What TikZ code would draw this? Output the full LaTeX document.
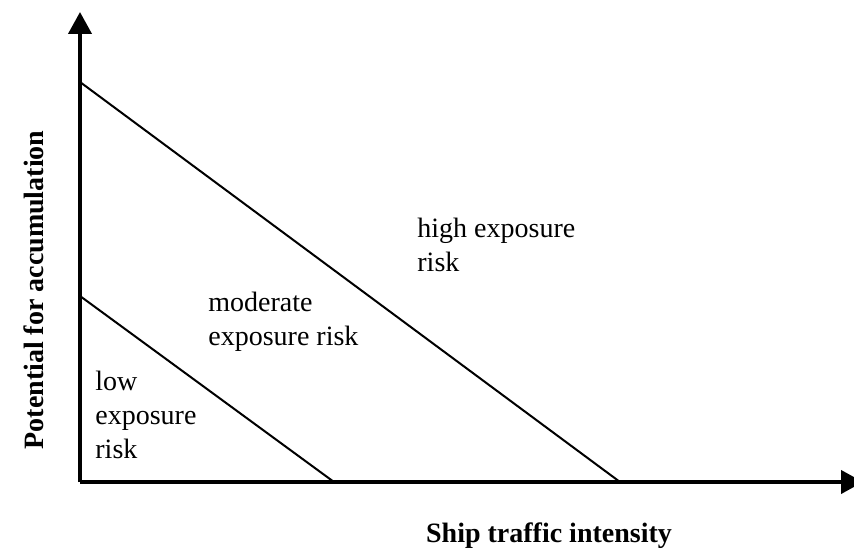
\documentclass[tikz,border=0pt]{standalone}
\usepackage{fontspec}
\setmainfont{Liberation Serif}
\usetikzlibrary{arrows.meta}
\begin{document}
\begin{tikzpicture}[x=0.5pt,y=-0.5pt,
  axis/.style={line width=2pt,-{Triangle[length=11pt,width=11.5pt]}},
  zone/.style={line width=1pt},
  lbl/.style={inner sep=0pt,anchor=base west,align=left,font=\fontsize{14}{17}\selectfont},
  axlbl/.style={inner sep=0pt,anchor=base,font=\fontsize{14}{17}\selectfont\bfseries}]
\useasboundingbox (0,0) rectangle (854,549);
\coordinate (O) at (80,482);
\coordinate (ytip) at (80,12);
\coordinate (xtip) at (863,482);
\coordinate (hiA) at (80,82);
\coordinate (hiB) at (620,482);
\coordinate (loA) at (80,296);
\coordinate (loB) at (334,482);
\draw[zone] (hiA) -- (hiB);
\draw[zone] (loA) -- (loB);
\draw[axis] (O) -- (ytip);
\draw[axis] (O) -- (xtip);
\node[lbl] (high) at (417,272) {high exposure\\risk};
\node[lbl] (mod) at (208,345) {moderate\\exposure risk};
\node[lbl] (low) at (95,458) {low\\exposure\\risk};
\node[axlbl,rotate=90] (ylab) at (43,290) {Potential for accumulation};
\node[axlbl] (xlab) at (549,542) {Ship traffic intensity};
\end{tikzpicture}
\end{document}
